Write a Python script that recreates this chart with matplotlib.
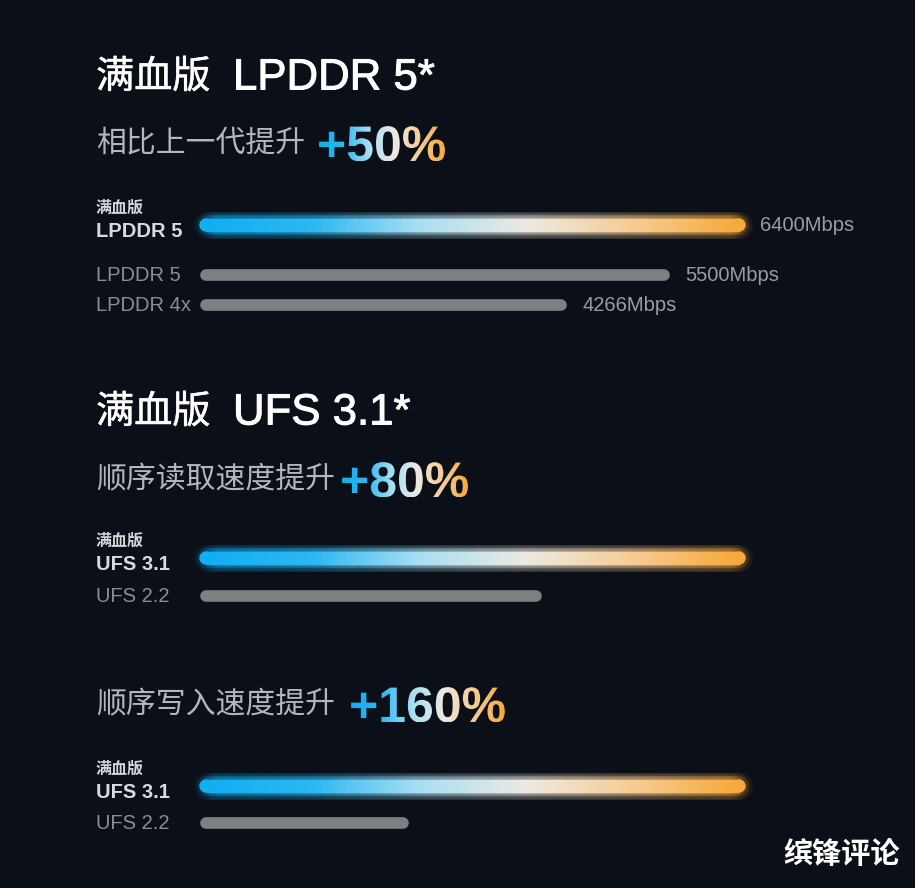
import numpy as np
import matplotlib
matplotlib.use("Agg")
import matplotlib.pyplot as plt
import matplotlib.patheffects as pe
from matplotlib.collections import LineCollection
from matplotlib.colors import LinearSegmentedColormap
from matplotlib.textpath import TextPath
from matplotlib.patches import PathPatch
from matplotlib.font_manager import FontProperties
from matplotlib.transforms import Affine2D

plt.rcParams['font.family'] = ['Liberation Sans', 'Noto Sans CJK SC']

# ---- data ----
titles = ["满血版 LPDDR 5*", "满血版 UFS 3.1*"]
subtitles = ["相比上一代提升", "顺序读取速度提升", "顺序写入速度提升"]
gains = ["+50%", "+80%", "+160%"]

mem_labels = ["LPDDR 5", "LPDDR 5", "LPDDR 4x"]
mem_speed = [6400, 5500, 4266]   # Mbps
read_labels = ["UFS 3.1", "UFS 2.2"]
read_rel = [100, 62]             # bar length, relative
write_labels = ["UFS 3.1", "UFS 2.2"]
write_rel = [100, 37]
top_tag = "满血版"
watermark = "缤锋评论"

W, H = 915, 888
BG = '#0b0f17'
GRAY_BAR = '#7e7f83'
cmap = LinearSegmentedColormap.from_list(
    'bar', ['#12aef2', '#2db8f2', '#a9def2', '#ece9e2', '#f6cc95', '#f6a93c'])

fig = plt.figure(figsize=(W / 100, H / 100), dpi=100)
fig.patch.set_facecolor(BG)
bg = fig.add_axes([0, 0, 1, 1])
bg.set_xlim(0, W)
bg.set_ylim(H, 0)
bg.axis('off')


def bar_axes(vmax):
    # value 0 sits at px 206, vmax at px 739 (round caps add a bit each side)
    ax = fig.add_axes([206 / W, 0, 533 / W, 1])
    ax.set_xlim(0, vmax)
    ax.set_ylim(H, 0)
    ax.axis('off')
    ax.patch.set_alpha(0)
    return ax


def grad_bar(ax, v, y, lw=9.6):
    n = 300
    xs = np.linspace(0, v, n + 1)
    x1 = np.append(xs[2:], xs[-1])
    segs = [[(xs[i], y), (x1[i], y)] for i in range(n)]
    cols = cmap(np.linspace(0, 1, n))
    for extra, a in [(10, 0.035), (5, 0.06)]:
        ax.add_collection(LineCollection(segs, colors=cols, linewidths=lw + extra, alpha=a,
                                         capstyle='round', clip_on=False))
    ax.add_collection(LineCollection(segs, colors=cols, linewidths=lw, capstyle='butt', clip_on=False))
    ax.scatter([0, v], [y, y], s=lw ** 2, c=[cols[0], cols[-1]], marker='o', linewidths=0,
               zorder=3, clip_on=False)


def gray_bar(ax, v, y, lw=8.4):
    ax.plot([0, v], [y, y], lw=lw, color=GRAY_BAR, solid_capstyle='round', clip_on=False)


def grad_text(x, y, s, size=50):
    fp = FontProperties(family='Liberation Sans', weight='bold')
    tp = TextPath((0, 0), s, size=size, prop=fp)
    bb = tp.get_extents()
    tr = Affine2D().scale(1, -1).translate(x, y) + bg.transData
    patch = PathPatch(tp, transform=tr, facecolor='none', edgecolor='none')
    bg.add_patch(patch)
    im = bg.imshow(np.linspace(0, 1, 256).reshape(1, -1), cmap=cmap, aspect='auto',
                   extent=(x + bb.x0, x + bb.x1, y - bb.y0, y - bb.y1), zorder=3)
    im.set_clip_path(patch)
    bg.set_xlim(0, W)
    bg.set_ylim(H, 0)


def title(y, s):
    cn, latin = s.split(' ', 1)
    bg.text(96, y, cn, color='white', fontsize=27.5, va='center',
            path_effects=[pe.withStroke(linewidth=0.35, foreground='white')])
    bg.text(233, y, latin, color='white', fontsize=31.5, va='center',
            path_effects=[pe.withStroke(linewidth=0.7, foreground='white')])


def subtitle(y, s, gain, gx, base):
    bg.text(96, y, s, color='#b3b6ba', fontsize=21.5, va='center')
    grad_text(gx, base, gain)


def top_label(y, name):
    bg.text(96, y - 17, top_tag, color='#d4d6d8', fontsize=11.5, fontweight='bold', va='center')
    bg.text(96, y + 6, name, color='#d8dadc', fontsize=14.5, fontweight='bold', va='center')


def low_label(y, name):
    bg.text(96, y, name, color='#8b8d90', fontsize=14.5, va='center')


# ---- LPDDR 5 ----
title(78, titles[0])
subtitle(143, subtitles[0], gains[0], 317, 161)
ax1 = bar_axes(mem_speed[0])
rows1 = [225, 275, 305]
for i, (lab, v) in enumerate(zip(mem_labels, mem_speed)):
    y = rows1[i]
    if i == 0:
        top_label(y, lab)
        grad_bar(ax1, v, y)
    else:
        low_label(y, lab)
        gray_bar(ax1, v, y)
    ax1.annotate(f"{v}Mbps", (v, y), xytext=(15, 0), textcoords='offset points',
                 color='#9a9c9f', fontsize=14.5, va='center', ha='left')

# ---- UFS read ----
title(413, titles[1])
subtitle(480, subtitles[1], gains[1], 340, 497)
ax2 = bar_axes(read_rel[0])
rows2 = [558, 596]
top_label(rows2[0], read_labels[0])
grad_bar(ax2, read_rel[0], rows2[0])
low_label(rows2[1], read_labels[1])
gray_bar(ax2, read_rel[1], rows2[1])

# ---- UFS write ----
subtitle(705, subtitles[2], gains[2], 349, 722)
ax3 = bar_axes(write_rel[0])
rows3 = [786, 823]
top_label(rows3[0], write_labels[0])
grad_bar(ax3, write_rel[0], rows3[0])
low_label(rows3[1], write_labels[1])
gray_bar(ax3, write_rel[1], rows3[1])

bg.text(900, 855, watermark, color='white', fontsize=21, fontweight='bold', va='center', ha='right')

fig.savefig('out.png', dpi=100, facecolor=BG)
